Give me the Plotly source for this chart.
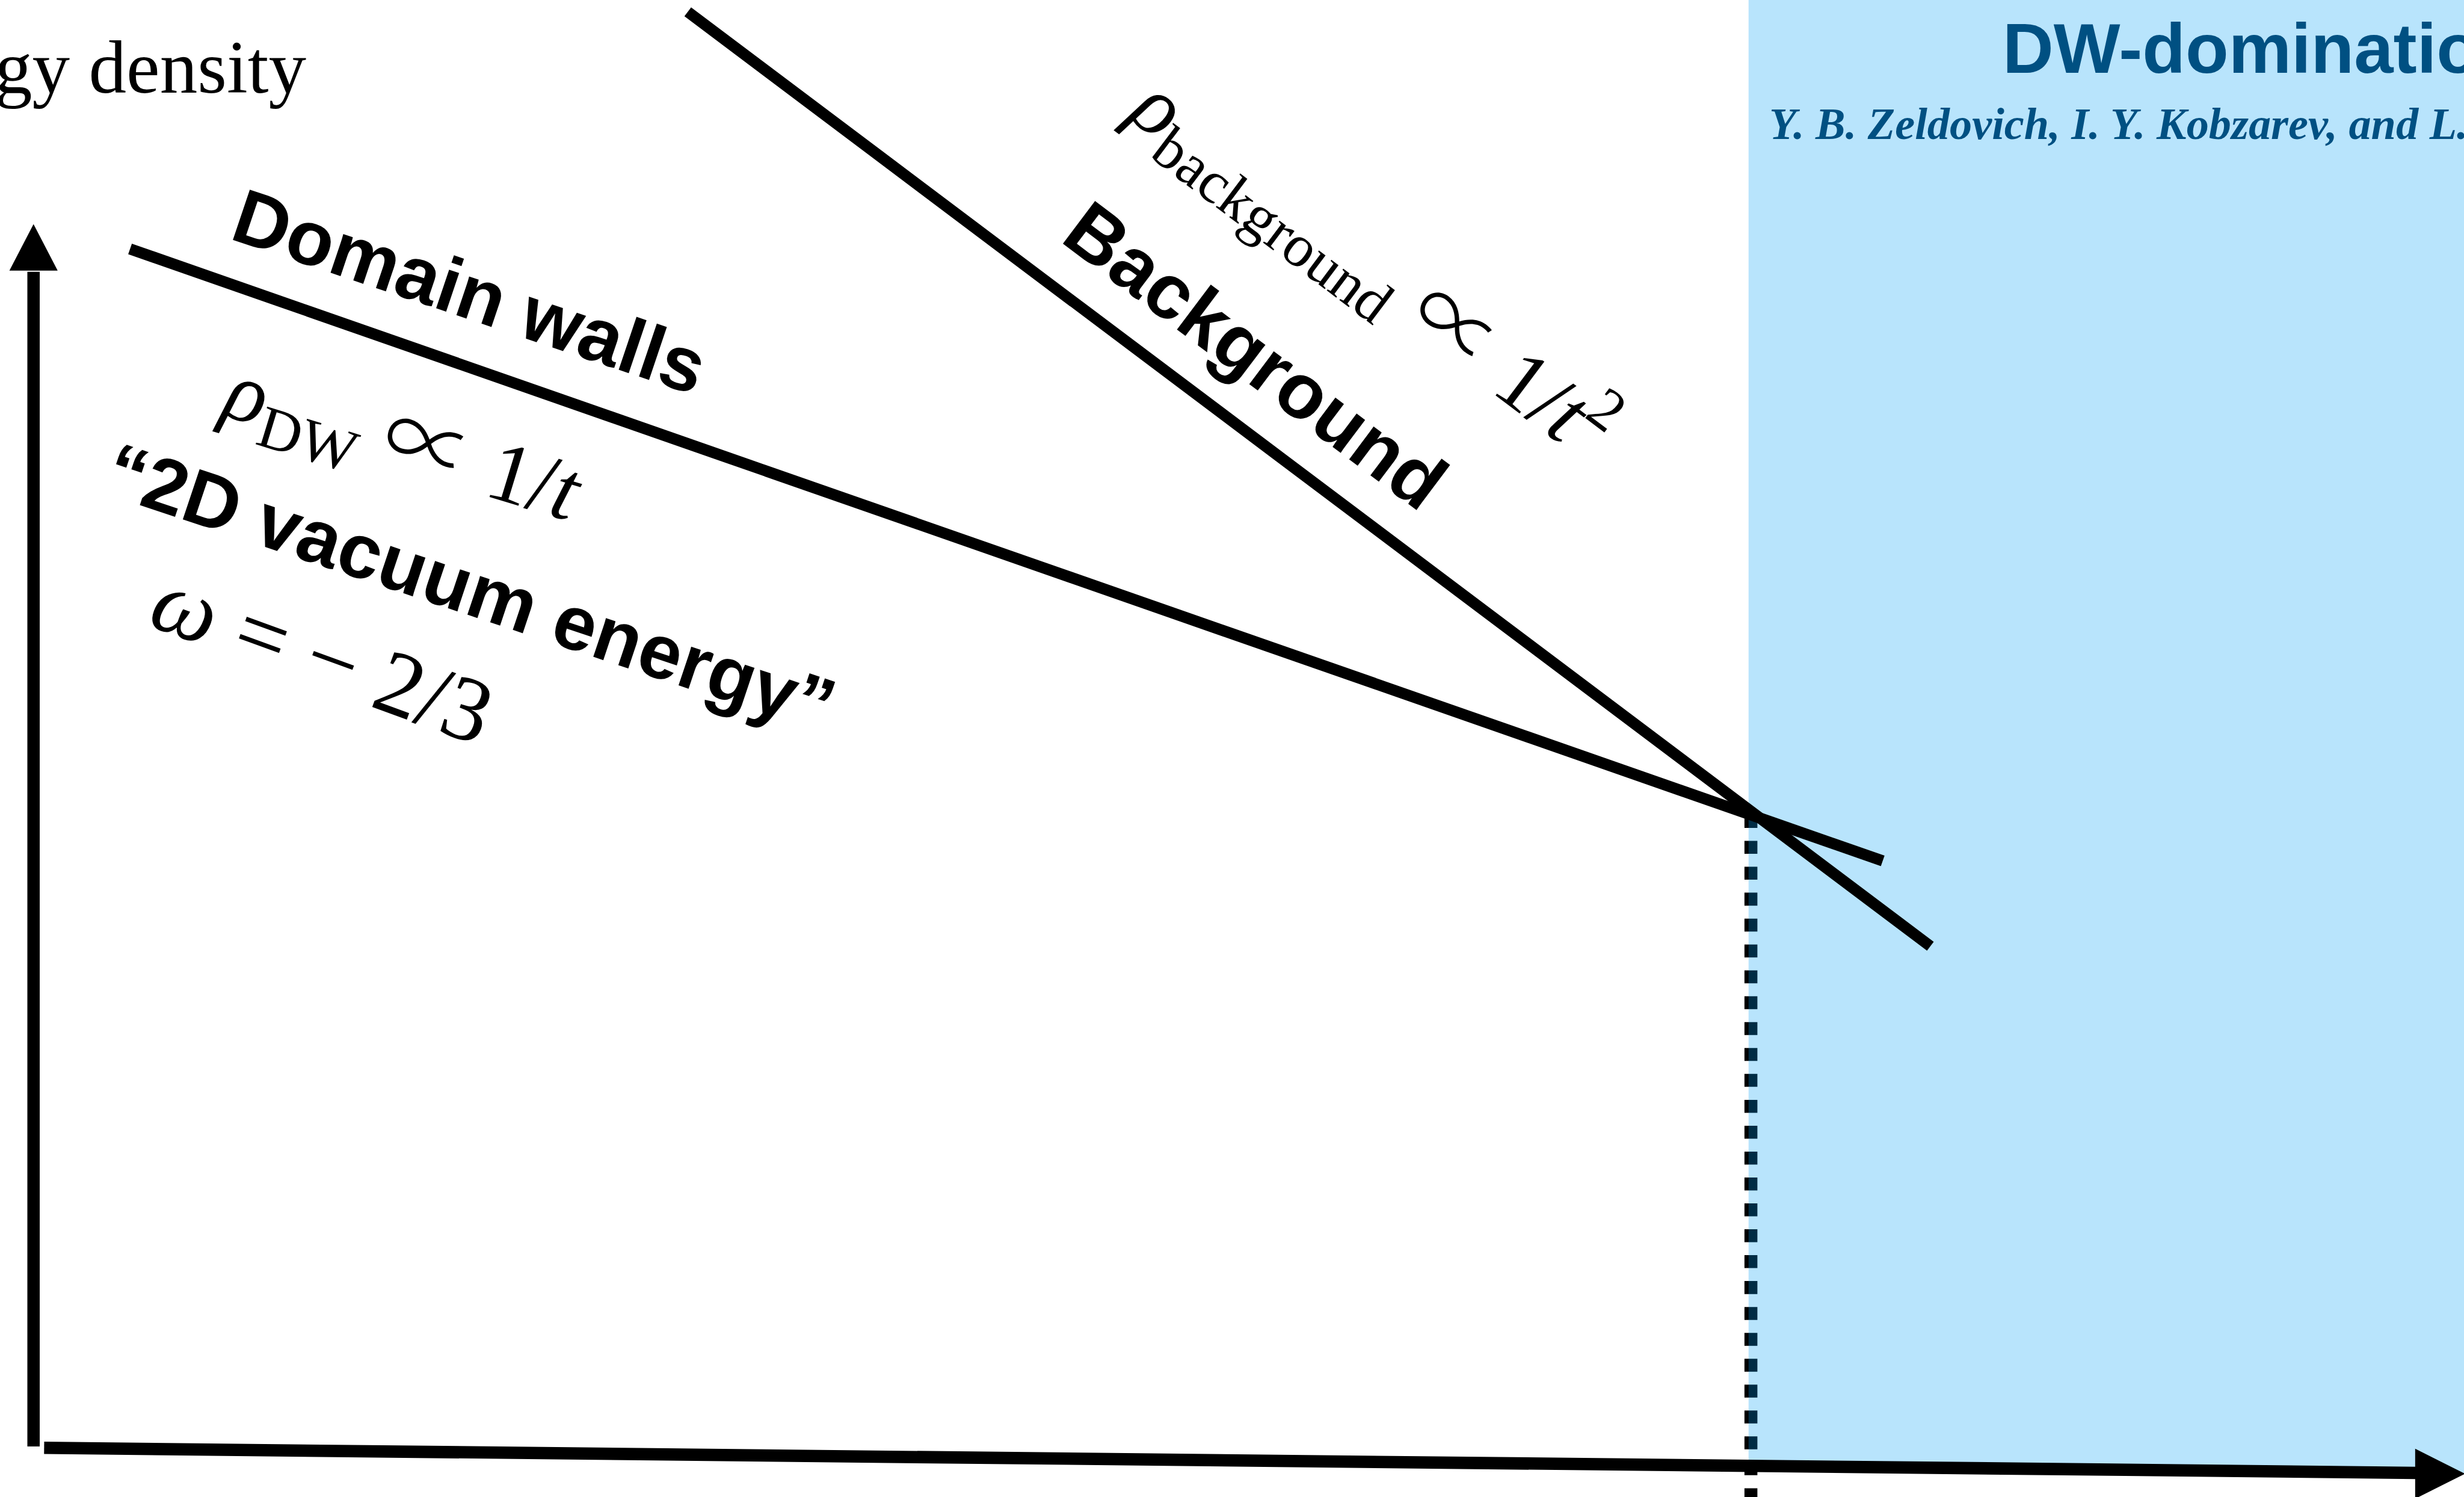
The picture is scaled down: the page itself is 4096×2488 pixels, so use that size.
import plotly.graph_objects as go

S = 4096 / 4188  # drawing scale relative to the reference

# ---- schematic data (reference units; x = time, y = screen-down energy density) ----
dw_t = [221, 3200]          # domain walls  rho ~ 1/t
dw_rho = [423, 1463]
bg_t = [1169, 3281]         # background    rho ~ 1/t^2
bg_rho = [20, 1608]

t_dom = [2976, 2976]        # onset of DW domination
t_dom_rho = [1385, 2560]

dom_t = [2972, 4230, 4230, 2972]
dom_rho = [-20, -20, 2505, 2491]

yaxis_t = [57, 57]
yaxis_rho = [2458, 462]
yhead_t = [16, 57, 98]
yhead_rho = [460, 381, 460]

xaxis_t = [75, 4107]
xaxis_rho = [2460.5, 2503]
xhead_t = [4105, 4190, 4105]
xhead_rho = [2462, 2504.5, 2547]

# ---- labels ----
PROP = "<span style=\"font-family:'Noto Sans CJK JP';font-weight:300;font-size:1.05em\">∝</span>"
lbl_energy = "Energy density"
lbl_dw = "<b>Domain walls</b>"
lbl_dw_rho = "<i>ρ</i><sub>DW</sub> " + PROP + " 1/<i>t</i>"
lbl_vac = "<b>“2D vacuum energy”</b>"
lbl_w = "<i>ω</i> = − 2/3"
lbl_bg = "<b>Background</b>"
lbl_bg_rho = "<i>ρ</i><sub>background</sub> " + PROP + " 1/<i>t</i><sup>2</sup>"
lbl_title = "<b>DW-domination</b>"
lbl_auth = "<b><i>Y. B. Zeldovich, I. Y. Kobzarev, and L. B. Okun</i></b>"

BLUE_TXT = "rgb(0,80,130)"

fig = go.Figure()

# dotted vertical line (drawn below the translucent region)
fig.add_trace(go.Scatter(x=t_dom, y=t_dom_rho, mode="lines",
                         line=dict(color="black", width=22 * S, dash="dot"),
                         hoverinfo="skip"))
# DW-dominated region
fig.add_trace(go.Scatter(x=dom_t, y=dom_rho, mode="lines", fill="toself",
                         fillcolor="rgba(0,157,244,0.28)", line=dict(width=0),
                         hoverinfo="skip"))
# energy density lines
fig.add_trace(go.Scatter(x=dw_t, y=dw_rho, mode="lines",
                         line=dict(color="black", width=19 * S), hoverinfo="skip"))
fig.add_trace(go.Scatter(x=bg_t, y=bg_rho, mode="lines",
                         line=dict(color="black", width=19 * S), hoverinfo="skip"))
# axes
fig.add_trace(go.Scatter(x=yaxis_t, y=yaxis_rho, mode="lines",
                         line=dict(color="black", width=21 * S), hoverinfo="skip"))
fig.add_trace(go.Scatter(x=yhead_t, y=yhead_rho, mode="lines", fill="toself",
                         fillcolor="black", line=dict(width=0), hoverinfo="skip"))
fig.add_trace(go.Scatter(x=xaxis_t, y=xaxis_rho, mode="lines",
                         line=dict(color="black", width=21 * S), hoverinfo="skip"))
fig.add_trace(go.Scatter(x=xhead_t, y=xhead_rho, mode="lines", fill="toself",
                         fillcolor="black", line=dict(width=0), hoverinfo="skip"))

SERIF = "Liberation Serif, Times New Roman, serif"
SANS = "Liberation Sans, Arial, Helvetica, sans-serif"


def ann(text, x, y, size, family, angle=0, color="black", xanchor="center"):
    fig.add_annotation(text=text, x=x, y=y, xref="x", yref="y", showarrow=False,
                       textangle=angle, xanchor=xanchor, yanchor="middle",
                       font=dict(size=size * S, family=family, color=color))


ann(lbl_energy, 522, 114, 128, SERIF, xanchor="right")
ann(lbl_dw, 799, 495, 131, SANS, angle=18.6)
ann(lbl_dw_rho, 688, 735, 146, SERIF, angle=17)
ann(lbl_vac, 800, 998, 131, SANS, angle=18.5)
ann(lbl_w, 549, 1115, 156, SERIF, angle=20)
ann(lbl_bg, 2134, 604, 132, SANS, angle=37)
ann(lbl_bg_rho, 2340, 442, 145, SERIF, angle=37)
ann(lbl_title, 3402, 82, 120, SANS, color=BLUE_TXT, xanchor="left")
ann(lbl_auth, 3005, 211, 76, SERIF, color=BLUE_TXT, xanchor="left")

fig.update_layout(
    width=4096, height=2488,
    margin=dict(l=0, r=0, t=0, b=0, pad=0),
    paper_bgcolor="white", plot_bgcolor="white",
    showlegend=False,
    xaxis=dict(range=[0, 4188], visible=False, fixedrange=True),
    yaxis=dict(range=[2544, 0], visible=False, fixedrange=True),
)

fig.write_html("out.html", config={"displayModeBar": False},
               post_script="document.body.style.margin='0';")
